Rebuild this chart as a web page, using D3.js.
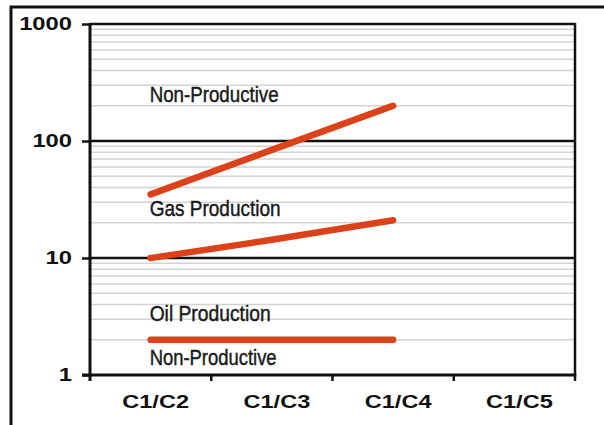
<!DOCTYPE html>
<html>
<head>
<meta charset="utf-8">
<script src="https://cdn.jsdelivr.net/npm/d3@7"></script>
<style>
  html, body { margin: 0; padding: 0; background: #fff; }
  svg { display: block; }
</style>
</head>
<body>
<svg id="chart" width="604" height="425"></svg>
<script>
// Ratio categories along the x axis
const categories = ["C1/C2", "C1/C3", "C1/C4", "C1/C5"];

// Boundary lines between the production zones (log scale values)
const nonProductiveUpper = [35, 84, 200];
const gasOilBoundary = [10, 14.3, 21];
const oilLowerBoundary = [2, 2, 2];

// Y axis tick labels
const yTicks = [1, 10, 100, 1000];

// Zone labels and the value each label's baseline sits at
const zoneLabels = ["Non-Productive", "Gas Production", "Oil Production", "Non-Productive"];
const zoneLabelValues = [215, 23, 2.9, 1.22];
const zoneLabelWidths = [129, 131, 121, 127];

const svg = d3.select("#chart");
const W = 604, H = 425;
const plot = { left: 90, right: 575, top: 24, bottom: 375 };

const x = d3.scaleBand().domain(categories).range([plot.left, plot.right]).padding(0);
const xEdge = d3.scaleLinear().domain([0, categories.length]).range([plot.left, plot.right]);
const y = d3.scaleLog().domain([1, 1000]).range([plot.bottom, plot.top]);

// Outer frame (top and left edges)
svg.append("path")
  .attr("d", `M11,${H} L11,7 L${W},7`)
  .attr("fill", "none").attr("stroke", "#111").attr("stroke-width", 3);

// Minor log gridlines
const minor = [];
[1, 10, 100].forEach(d => { for (let m = 2; m <= 9; m++) minor.push(d * m); });
svg.append("g").selectAll("line").data(minor).join("line")
  .attr("x1", plot.left).attr("x2", plot.right)
  .attr("y1", d => y(d)).attr("y2", d => y(d))
  .attr("stroke", "#d3d3d3").attr("stroke-width", 1.5);

// Major gridlines
svg.append("g").selectAll("line").data([10, 100, 1000]).join("line")
  .attr("x1", plot.left).attr("x2", plot.right)
  .attr("y1", d => y(d)).attr("y2", d => y(d))
  .attr("stroke", "#111").attr("stroke-width", 2.5);

// Right border
svg.append("line")
  .attr("x1", plot.right).attr("x2", plot.right)
  .attr("y1", plot.top - 1).attr("y2", plot.bottom)
  .attr("stroke", "#111").attr("stroke-width", 2.5);

// Y axis
const yAxis = svg.append("g")
  .attr("transform", `translate(${plot.left},0)`)
  .call(d3.axisLeft(y).tickValues(yTicks).tickFormat(d3.format("d")).tickSize(8).tickPadding(10));
yAxis.select(".domain").remove();
yAxis.append("line")
  .attr("x1", 0).attr("x2", 0).attr("y1", plot.top - 1).attr("y2", plot.bottom + 6)
  .attr("stroke", "#111").attr("stroke-width", 3);
yAxis.selectAll(".tick line").attr("stroke", "#111").attr("stroke-width", 2.5);
yAxis.selectAll(".tick text")
  .attr("fill", "#111")
  .style("font-family", "'Liberation Sans', Arial, sans-serif")
  .style("font-weight", "bold")
  .style("font-size", "19px")
  .attr("dy", "0.3em")
  .each(function () {
    const w = this.getComputedTextLength();
    d3.select(this).attr("textLength", w * 1.25).attr("lengthAdjust", "spacingAndGlyphs");
  });

// X axis baseline and boundary ticks
const xAxis = svg.append("g");
xAxis.append("line")
  .attr("x1", plot.left - 8).attr("x2", plot.right + 1.25)
  .attr("y1", plot.bottom).attr("y2", plot.bottom)
  .attr("stroke", "#111").attr("stroke-width", 3);
xAxis.selectAll("line.tk").data(d3.range(1, categories.length + 1)).join("line")
  .attr("class", "tk")
  .attr("x1", d => xEdge(d)).attr("x2", d => xEdge(d))
  .attr("y1", plot.bottom).attr("y2", plot.bottom + 6)
  .attr("stroke", "#111").attr("stroke-width", 2.5);
xAxis.selectAll("text").data(categories).join("text")
  .attr("x", d => x(d) + x.bandwidth() / 2 + 5)
  .attr("y", plot.bottom + 33)
  .attr("text-anchor", "middle")
  .attr("fill", "#111")
  .style("font-family", "'Liberation Sans', Arial, sans-serif")
  .style("font-weight", "bold")
  .style("font-size", "18px")
  .text(d => d)
  .each(function () {
    const w = this.getComputedTextLength();
    d3.select(this).attr("textLength", w * 1.31).attr("lengthAdjust", "spacingAndGlyphs");
  });

// Zone boundary lines
const line = d3.line()
  .x((d, i) => x(categories[i]) + x.bandwidth() / 2)
  .y(d => y(d))
  .curve(d3.curveMonotoneX);
svg.append("g").selectAll("path")
  .data([nonProductiveUpper, gasOilBoundary, oilLowerBoundary]).join("path")
  .attr("d", line)
  .attr("fill", "none")
  .attr("stroke", "#dd4119")
  .attr("stroke-width", 6.5)
  .attr("stroke-linecap", "round")
  .attr("stroke-linejoin", "round");

// Zone labels (condensed, slightly heavy)
svg.append("g").selectAll("text").data(zoneLabels).join("text")
  .attr("x", x(categories[0]) + x.bandwidth() / 2 - 1)
  .attr("y", (d, i) => y(zoneLabelValues[i]))
  .attr("fill", "#1a1a1a")
  .attr("stroke", "#1a1a1a")
  .attr("stroke-width", 0.45)
  .style("font-family", "'Liberation Sans Narrow', 'Arial Narrow', 'Liberation Sans', sans-serif")
  .style("font-size", "22.5px")
  .attr("textLength", (d, i) => zoneLabelWidths[i])
  .attr("lengthAdjust", "spacingAndGlyphs")
  .text(d => d);
</script>
</body>
</html>
